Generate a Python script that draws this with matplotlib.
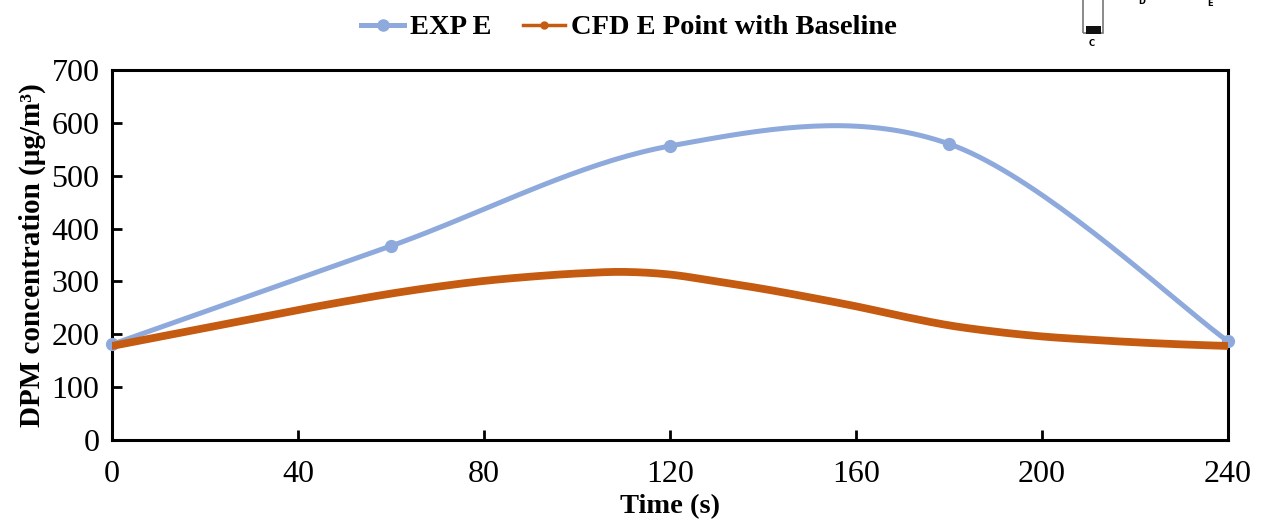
import numpy as np
import matplotlib
matplotlib.use("Agg")
import matplotlib.pyplot as plt
from matplotlib.lines import Line2D
from matplotlib.patches import Rectangle

# ---- data ----
exp_time = [0, 60, 120, 180, 240]
exp_vals = [181, 367, 556, 560, 187]

cfd_time = [0, 10, 20, 30, 40, 50, 60, 70, 80, 90, 100, 110, 120,
            130, 140, 150, 160, 170, 180, 190, 200, 210, 220, 230, 240]
cfd_vals = [178, 195, 212, 229, 246, 262, 277, 290, 301, 309, 315, 318, 313,
            300, 286, 270, 253, 234, 217, 205, 196, 190, 185, 181, 178]

x_ticks = [0, 40, 80, 120, 160, 200, 240]
y_ticks = [0, 100, 200, 300, 400, 500, 600, 700]

EXP_COLOR = "#8EA9DB"
CFD_COLOR = "#C55A11"


def smooth(xs, ys, n=40):
    """Excel-style smoothed line (Catmull-Rom through the points as cubic Beziers)."""
    P = np.column_stack([xs, ys]).astype(float)
    out = []
    for i in range(len(P) - 1):
        p0 = P[i - 1] if i > 0 else P[i]
        p1, p2 = P[i], P[i + 1]
        p3 = P[i + 2] if i + 2 < len(P) else P[i + 1]
        b1 = p1 + (p2 - p0) / 6.0
        b2 = p2 - (p3 - p1) / 6.0
        t = np.linspace(0, 1, n)[:, None]
        seg = ((1 - t) ** 3) * p1 + 3 * ((1 - t) ** 2) * t * b1 + 3 * (1 - t) * t ** 2 * b2 + t ** 3 * p2
        out.append(seg if i == 0 else seg[1:])
    s = np.vstack(out)
    return s[:, 0], s[:, 1]


plt.rcParams['font.family'] = ['Liberation Serif', 'DejaVu Serif']

fig = plt.figure(figsize=(12.61, 5.29), dpi=100)
ax = fig.add_axes([0.0888, 0.168, 0.9738 - 0.0888, 0.868 - 0.168])

ex, ey = smooth(exp_time, exp_vals)
ax.plot(ex, ey, color=EXP_COLOR, lw=3.6, solid_capstyle='round', zorder=3)
ax.plot(exp_time, exp_vals, 'o', color=EXP_COLOR, ms=8.5, zorder=4, clip_on=False)

cx, cy = smooth(cfd_time, cfd_vals)
ax.plot(cx, cy, color=CFD_COLOR, lw=5.6, solid_capstyle='round', zorder=5)

ax.set_xlim(0, 240)
ax.set_ylim(0, 700)
ax.set_xticks(x_ticks)
ax.set_yticks(y_ticks)
ax.tick_params(direction='in', length=7, width=2, labelsize=23, pad=9)
ax.tick_params(axis='x', pad=14)
for s in ax.spines.values():
    s.set_linewidth(2.2)

ax.set_xlabel("Time (s)", fontsize=20.5, fontweight='bold', labelpad=4)
ax.set_ylabel("DPM concentration (μg/m³)", fontsize=21, fontweight='bold', labelpad=4)

handles = [
    Line2D([], [], color=EXP_COLOR, lw=3.6, marker='o', ms=8),
    Line2D([], [], color=CFD_COLOR, lw=2.5, marker='o', ms=5),
]
fig.legend(handles, ["EXP E", "CFD E Point with Baseline"], loc='center',
           bbox_to_anchor=(0.499, 0.948), ncol=2, frameon=False,
           prop={'family': 'Liberation Serif', 'weight': 'bold', 'size': 20.5},
           handlelength=1.5, handletextpad=0.2, columnspacing=1.1)

# fragment of an inset image at top right
W, H = 1261, 529
fig.patches.append(Rectangle((1083 / W, 1 - 33 / H), 20 / W, 40 / H, transform=fig.transFigure,
                             fill=False, edgecolor='#777777', lw=1.2))
fig.patches.append(Rectangle((1086 / W, 1 - 34 / H), 15 / W, 8 / H, transform=fig.transFigure,
                             facecolor='#111111', edgecolor='none'))
fig.text(1092 / W, 1 - 44 / H, "C", fontsize=6, fontweight='bold', family='DejaVu Sans',
         ha='center', va='center')
fig.text(1142 / W, 1 - 2 / H, "D", fontsize=6, fontweight='bold', family='DejaVu Sans',
         ha='center', va='center')
fig.text(1210 / W, 1 - 3 / H, "E", fontsize=6, fontweight='bold', family='DejaVu Sans',
         ha='center', va='center')

fig.savefig("out.png", dpi=100, facecolor='white')
